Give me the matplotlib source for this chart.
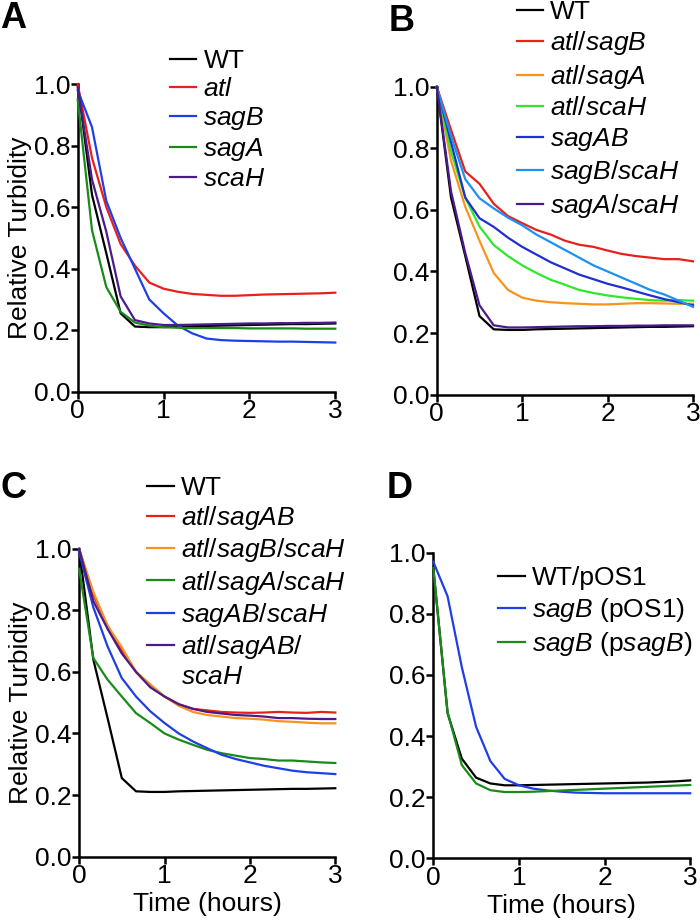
import numpy as np
import matplotlib
matplotlib.use("Agg")
import matplotlib.pyplot as plt
from matplotlib.lines import Line2D

plt.rcParams['font.family'] = ['Liberation Sans', 'DejaVu Sans']
plt.rcParams['mathtext.fontset'] = 'custom'
plt.rcParams['mathtext.rm'] = 'Liberation Sans'
plt.rcParams['mathtext.it'] = 'Liberation Sans:italic'

# sampling every 10 min over 3 h
time_h = np.arange(19) / 6.0

# shared wild type curve (panels A-C)
wt = [1.0, 0.64, 0.45, 0.255, 0.212, 0.21, 0.21, 0.212, 0.213, 0.214, 0.215,
      0.216, 0.217, 0.218, 0.219, 0.22, 0.22, 0.221, 0.222]

# panel A
a_atl = [1.0, 0.76, 0.60, 0.48, 0.41, 0.355, 0.335, 0.325, 0.318, 0.315, 0.312,
         0.312, 0.314, 0.316, 0.317, 0.318, 0.319, 0.32, 0.322]
a_sagB = [0.98, 0.86, 0.62, 0.50, 0.40, 0.30, 0.255, 0.215, 0.19, 0.173, 0.168,
          0.166, 0.165, 0.164, 0.163, 0.163, 0.162, 0.161, 0.16]
a_sagA = [0.95, 0.525, 0.34, 0.26, 0.225, 0.215, 0.21, 0.208, 0.207, 0.207, 0.207,
          0.207, 0.206, 0.206, 0.206, 0.206, 0.205, 0.205, 0.205]
a_scaH = [0.99, 0.69, 0.52, 0.31, 0.233, 0.222, 0.217, 0.217, 0.218, 0.219, 0.22,
          0.221, 0.222, 0.222, 0.223, 0.223, 0.224, 0.224, 0.225]

# panel B
b_atl_sagB = [1.0, 0.86, 0.725, 0.685, 0.62, 0.58, 0.557, 0.535, 0.52, 0.50, 0.487,
              0.48, 0.468, 0.457, 0.45, 0.445, 0.44, 0.44, 0.433]
b_atl_sagA = [1.0, 0.76, 0.61, 0.50, 0.395, 0.34, 0.315, 0.305, 0.30, 0.297, 0.295,
              0.293, 0.293, 0.295, 0.297, 0.297, 0.296, 0.295, 0.295]
b_atl_scaH = [1.0, 0.79, 0.64, 0.546, 0.486, 0.45, 0.42, 0.395, 0.373, 0.357, 0.34,
              0.33, 0.322, 0.316, 0.311, 0.307, 0.305, 0.307, 0.305]
b_sagAB = [1.0, 0.82, 0.64, 0.573, 0.545, 0.51, 0.48, 0.455, 0.43, 0.41, 0.39,
           0.375, 0.36, 0.348, 0.335, 0.322, 0.31, 0.30, 0.29]
b_sagB_scaH = [1.0, 0.84, 0.70, 0.638, 0.605, 0.575, 0.55, 0.52, 0.495, 0.47, 0.445,
               0.42, 0.40, 0.38, 0.36, 0.34, 0.325, 0.305, 0.285]
b_sagA_scaH = [1.0, 0.66, 0.46, 0.29, 0.225, 0.218, 0.218, 0.219, 0.22, 0.221, 0.222,
               0.222, 0.223, 0.223, 0.224, 0.224, 0.225, 0.225, 0.225]

# panel C
c_atl_sagAB = [1.0, 0.85, 0.75, 0.67, 0.60, 0.555, 0.52, 0.495, 0.48, 0.475, 0.47,
               0.468, 0.467, 0.468, 0.47, 0.468, 0.467, 0.47, 0.468]
c_atl_sagB_scaH = [1.0, 0.86, 0.75, 0.68, 0.60, 0.56, 0.52, 0.49, 0.47, 0.46, 0.455,
                   0.45, 0.448, 0.445, 0.44, 0.438, 0.435, 0.433, 0.433]
c_atl_sagA_scaH = [0.935, 0.645, 0.575, 0.52, 0.466, 0.434, 0.40, 0.38, 0.363, 0.347,
                   0.336, 0.328, 0.32, 0.317, 0.312, 0.312, 0.309, 0.306, 0.304]
c_sagAB_scaH = [0.99, 0.81, 0.683, 0.58, 0.52, 0.472, 0.434, 0.40, 0.374, 0.352, 0.331,
                0.317, 0.306, 0.295, 0.287, 0.279, 0.274, 0.271, 0.268]
c_atl_sagAB_scaH = [1.0, 0.83, 0.74, 0.66, 0.60, 0.55, 0.52, 0.495, 0.48, 0.47, 0.465,
                    0.46, 0.458, 0.455, 0.45, 0.45, 0.448, 0.447, 0.447]

# panel D
d_wt_pOS1 = [0.95, 0.475, 0.326, 0.264, 0.245, 0.239, 0.239, 0.24, 0.241, 0.242, 0.243,
             0.244, 0.245, 0.246, 0.247, 0.248, 0.25, 0.252, 0.255]
d_sagB_pOS1 = [0.97, 0.857, 0.625, 0.43, 0.318, 0.26, 0.239, 0.228, 0.222, 0.218, 0.215,
               0.214, 0.213, 0.213, 0.213, 0.213, 0.213, 0.213, 0.213]
d_sagB_psagB = [0.95, 0.478, 0.305, 0.245, 0.223, 0.217, 0.217, 0.218, 0.22, 0.222, 0.224,
                0.226, 0.228, 0.23, 0.232, 0.234, 0.236, 0.238, 0.24]

RED = '#e8201c'
ORANGE = '#f7941d'
LGREEN = '#2ee82e'
DGREEN = '#1a8a1a'
BLUE = '#1f3fe6'
DBLUE = '#1f2fd0'
LBLUE = '#1e90f0'
PURPLE = '#4b1a8c'


def it(s):
    return r'$\mathit{' + s + '}$'


panels = {
    'A': [(wt, 'k', 'WT'), (a_atl, RED, it('atl')), (a_sagB, BLUE, it('sagB')),
          (a_sagA, DGREEN, it('sagA')), (a_scaH, PURPLE, it('scaH'))],
    'B': [(wt, 'k', 'WT'), (b_atl_sagB, RED, it('atl/sagB')), (b_atl_sagA, ORANGE, it('atl/sagA')),
          (b_atl_scaH, LGREEN, it('atl/scaH')), (b_sagAB, DBLUE, it('sagAB')),
          (b_sagB_scaH, LBLUE, it('sagB/scaH')), (b_sagA_scaH, PURPLE, it('sagA/scaH'))],
    'C': [(wt, 'k', 'WT'), (c_atl_sagAB, RED, it('atl/sagAB')),
          (c_atl_sagB_scaH, ORANGE, it('atl/sagB/scaH')),
          (c_atl_sagA_scaH, DGREEN, it('atl/sagA/scaH')),
          (c_sagAB_scaH, BLUE, it('sagAB/scaH')),
          (c_atl_sagAB_scaH, PURPLE, it('atl/sagAB/'))],
    'D': [(d_wt_pOS1, 'k', 'WT/pOS1'), (d_sagB_pOS1, BLUE, it('sagB') + ' (pOS1)'),
          (d_sagB_psagB, DGREEN, it('sagB') + ' (p' + it('sagB') + ')')],
}

# axes boxes [left, bottom, width, height] in figure fraction
boxes = {
    'A': [0.111, 0.576, 0.368, 0.333],
    'B': [0.624, 0.573, 0.366, 0.333],
    'C': [0.113, 0.073, 0.366, 0.333],
    'D': [0.619, 0.071, 0.367, 0.331],
}
# legend anchor (upper left, axes fraction) and row spacing
leg_anchor = {
    'A': (0.358, 1.113),
    'B': (0.3125, 1.283),
    'C': (0.266, 1.237),
    'D': (0.253, 0.955),
}
leg_spacing = {'A': 0.15, 'B': 0.21, 'C': 0.16, 'D': 0.23}
letter_pos = {'A': (0.0, 0.999), 'B': (0.555, 0.996), 'C': (0.0, 0.49), 'D': (0.553, 0.49)}

fig = plt.figure(figsize=(7, 9.24), dpi=100)

for key, series in panels.items():
    ax = fig.add_axes(boxes[key])
    handles = []
    labels = []
    for vals, col, lab in series:
        ln, = ax.plot(time_h, vals, color=col, lw=1.6, clip_on=False, zorder=3)
        handles.append(ln)
        labels.append(lab)
    if key == 'C':
        handles.append(Line2D([], [], color='none'))
        labels.append(it('scaH'))

    ax.set_xlim(0, 3)
    ax.set_ylim(0, 1.0)
    ax.set_xticks([0, 1, 2, 3])
    ax.set_yticks([0.0, 0.2, 0.4, 0.6, 0.8, 1.0])
    ax.set_yticklabels(['0.0', '0.2', '0.4', '0.6', '0.8', '1.0'])
    for s in ['top', 'right']:
        ax.spines[s].set_visible(False)
    for s in ['left', 'bottom']:
        ax.spines[s].set_linewidth(1.8)
    ax.tick_params(axis='both', direction='out', length=5, width=1.8,
                   labelsize=19, pad=0.5)
    if key in ('A', 'C'):
        ax.set_ylabel('Relative Turbidity', fontsize=19, labelpad=1)
    if key in ('C', 'D'):
        ax.set_xlabel('Time (hours)', fontsize=19, labelpad=3)

    ax.legend(handles, labels, loc='upper left', bbox_to_anchor=leg_anchor[key],
              frameon=False, fontsize=19, handlelength=1.0, handletextpad=0.27,
              labelspacing=leg_spacing[key], borderaxespad=0, borderpad=0)

    fig.text(letter_pos[key][0], letter_pos[key][1], key, fontsize=26,
             fontweight='bold', ha='left', va='top')

fig.savefig('out.png', dpi=100)
